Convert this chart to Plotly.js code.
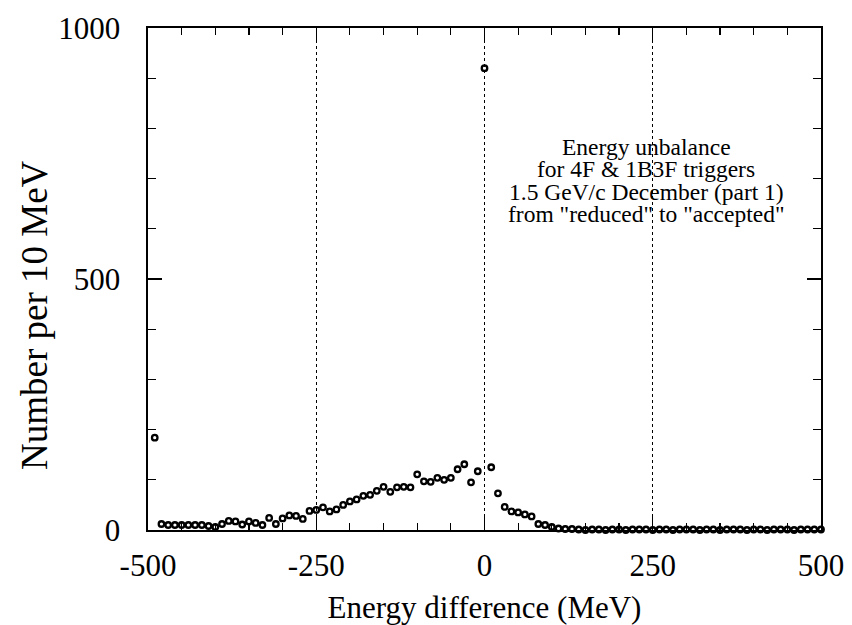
<!DOCTYPE html>
<html>
<head>
<meta charset="utf-8">
<script src="https://cdn.plot.ly/plotly-3.0.1.min.js"></script>
<style>
  html, body { margin: 0; padding: 0; background: #ffffff; }
  #chart { width: 852px; height: 625px; }
</style>
</head>
<body>
<div id="chart"></div>
<script>
// Bin positions (MeV) of the energy-difference histogram, 10 MeV bins
const energyBins = [
  -490, -480, -470, -460, -450, -440, -430, -420, -410, -400,
  -390, -380, -370, -360, -350, -340, -330, -320, -310, -300,
  -290, -280, -270, -260, -250, -240, -230, -220, -210, -200,
  -190, -180, -170, -160, -150, -140, -130, -120, -110, -100,
   -90,  -80,  -70,  -60,  -50,  -40,  -30,  -20,  -10,    0,
    10,   20,   30,   40,   50,   60,   70,   80,   90,  100,
   110,  120,  130,  140,  150,  160,  170,  180,  190,  200,
   210,  220,  230,  240,  250,  260,  270,  280,  290,  300,
   310,  320,  330,  340,  350,  360,  370,  380,  390,  400,
   410,  420,  430,  440,  450,  460,  470,  480,  490,  500
];

// Entries per 10 MeV bin
const counts = [
  184,  12,  10,  10,  10,  10,  10,  10,   8,   6,
   12,  18,  17,  11,  17,  14,  10,  24,  12,  23,
   29,  28,  22,  38,  40,  45,  37,  41,  50,  57,
   61,  68,  70,  78,  86,  76,  85,  86,  85, 111,
   97,  96, 104, 100, 104, 121, 131,  95, 117, 920,
  125,  73,  46,  37,  35,  31,  27,  12,  10,   6,
    3,   2,   2,   1,   0,   1,   1,   0,   1,   1,
    0,   1,   1,   1,   0,   1,   1,   0,   1,   1,
    1,   0,   1,   1,   0,   1,   1,   1,   0,   1,
    1,   0,   1,   1,   1,   0,   1,   1,   1,   1
];

const xTickVals = [-500, -250, 0, 250, 500];
const xTickText = ["-500", "-250", "0", "250", "500"];
const yTickVals = [0, 500, 1000];
const yTickText = ["0", "500", "1000"];

const yTitle = "Number per 10 MeV";
const noteLines = [
  "Energy unbalance",
  "for 4F &amp; 1B3F triggers",
  "1.5 GeV/c December (part 1)",
  "from \"reduced\" to \"accepted\""
];

const serif = "'Liberation Serif', 'Times New Roman', Times, serif";

const trace = {
  type: "scatter",
  mode: "markers",
  x: energyBins,
  y: counts,
  cliponaxis: false,
  marker: {
    symbol: "circle-open",
    size: 5.5,
    color: "#000000",
    line: { color: "#000000", width: 2.3 }
  },
  hoverinfo: "x+y"
};

// Plot area in pixels, used to place the free-standing texts
const plotLeft = 148, plotRight = 821, plotTop = 28, plotBottom = 530;
const toPaperX = px => (px - plotLeft) / (plotRight - plotLeft);
const toPaperY = py => (plotBottom - py) / (plotBottom - plotTop);

const noteCenterX = 646;
const noteTopY = 147, noteStep = 22.4;

const annotations = noteLines.map((t, i) => ({
  xref: "paper", yref: "paper",
  x: toPaperX(noteCenterX),
  y: toPaperY(noteTopY + i * noteStep),
  xanchor: "center", yanchor: "middle",
  text: t,
  showarrow: false,
  font: { family: serif, size: 23.5, color: "#000000" }
}));

// Vertical axis title, set a little below the middle of the axis
annotations.push({
  xref: "paper", yref: "paper",
  x: toPaperX(35),
  y: toPaperY(315),
  xanchor: "center", yanchor: "middle",
  text: yTitle,
  textangle: -90,
  showarrow: false,
  font: { family: serif, size: 37, color: "#000000" }
});

const axisCommon = {
  showline: true,
  linecolor: "#000000",
  linewidth: 1.6,
  mirror: "ticks",
  ticks: "inside",
  tickcolor: "#000000",
  tickwidth: 1.4,
  ticklen: 14,
  zeroline: false,
  tickmode: "array",
  tickfont: { family: serif, size: 31, color: "#000000" }
};

const layout = {
  width: 852,
  height: 625,
  font: { family: serif, color: "#000000" },
  paper_bgcolor: "#ffffff",
  plot_bgcolor: "#ffffff",
  margin: { l: plotLeft, r: 852 - plotRight, t: plotTop, b: 625 - plotBottom },
  showlegend: false,
  xaxis: Object.assign({}, axisCommon, {
    range: [-500, 500],
    tickvals: xTickVals,
    ticktext: xTickText,
    ticklabelstandoff: 7,
    showgrid: true,
    gridcolor: "#000000",
    gridwidth: 1.3,
    griddash: "dot",
    minor: { dtick: 50, tick0: 0, ticks: "inside", ticklen: 7, tickwidth: 1.2, tickcolor: "#000000", showgrid: false },
    title: { text: "Energy difference (MeV)", font: { family: serif, size: 31, color: "#000000" }, standoff: 19 }
  }),
  yaxis: Object.assign({}, axisCommon, {
    range: [0, 1000],
    tickvals: yTickVals,
    ticktext: yTickText,
    ticklabelstandoff: 20,
    showgrid: false,
    minor: { dtick: 100, tick0: 0, ticks: "inside", ticklen: 8, tickwidth: 1.2, tickcolor: "#000000", showgrid: false }
  }),
  annotations: annotations
};

Plotly.newPlot("chart", [trace], layout, { displayModeBar: false, staticPlot: true });
</script>
</body>
</html>
